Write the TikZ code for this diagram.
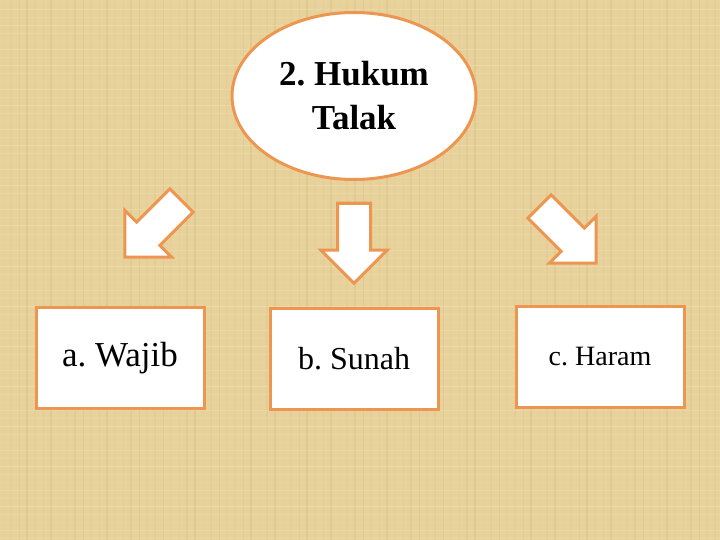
\documentclass[tikz,border=0pt]{standalone}
\usepackage{fontspec}
\setmainfont{Liberation Serif}
\usepackage{xcolor}
\usetikzlibrary{shapes.arrows, shapes.geometric}
\frenchspacing

\definecolor{papyrus}{RGB}{232,210,156}
\definecolor{papyrusdark}{RGB}{200,170,105}
\definecolor{papyruslight}{RGB}{248,234,195}
\definecolor{hukumorange}{RGB}{236,150,82}

\tikzset{
  hukumbox/.style={draw=hukumorange, line width=3pt, fill=white, minimum width=168pt, minimum height=101pt, inner sep=0pt},
  bigarrow/.style={single arrow, draw=hukumorange, line width=3pt, fill=white, inner sep=0pt, inner ysep=15pt, minimum height=80pt, single arrow head extend=16.5pt}
}

\begin{document}
\begin{tikzpicture}[x=1pt, y=-1pt]
		\fill[papyrus] (0,0) rectangle (720,540);
		\useasboundingbox (0,0) rectangle (720,540);
		% papyrus fibres
		\foreach \i in {0,...,89} {
			\pgfmathsetmacro{\op}{0.05+0.2*mod(\i*37,7)/7}
			\pgfmathsetmacro{\lw}{0.6+1.6*mod(\i*13,5)/5}
			\draw[papyrusdark, opacity=\op, line width=\lw pt] (\i*8+3,0) -- (\i*8+3,540);
		}
		\foreach \j in {0,...,67} {
			\pgfmathsetmacro{\op}{0.1+0.3*mod(\j*23,5)/5}
			\draw[papyruslight, opacity=\op, line width=1pt] (0,\j*8+2) -- (720,\j*8+2);
		}
		% TOP
		\node[draw=hukumorange, line width=3pt, fill=white, ellipse, minimum width=244pt, minimum height=167pt, inner sep=0pt, align=center, font=\fontsize{35}{44}\selectfont\bfseries] (hukum) at (354,96) {2. Hukum\\Talak};
		% arrows
		\node[bigarrow, rotate=-135] (arrowa) at (159,223) {};
		\node[bigarrow, rotate=-90] (arrowb) at (354,235) {};
		\node[bigarrow, rotate=-45] (arrowc) at (562,229) {};
		% BOTTOM
		\node[hukumbox, font=\fontsize{35}{42}\selectfont] (wajib) at (120,358) {a. Wajib};
		\node[hukumbox, font=\fontsize{32}{38}\selectfont] (sunah) at (354,359) {b. Sunah};
		\node[hukumbox, font=\fontsize{28}{34}\selectfont] (haram) at (600,357) {c. Haram};
	\end{tikzpicture}
\end{document}
